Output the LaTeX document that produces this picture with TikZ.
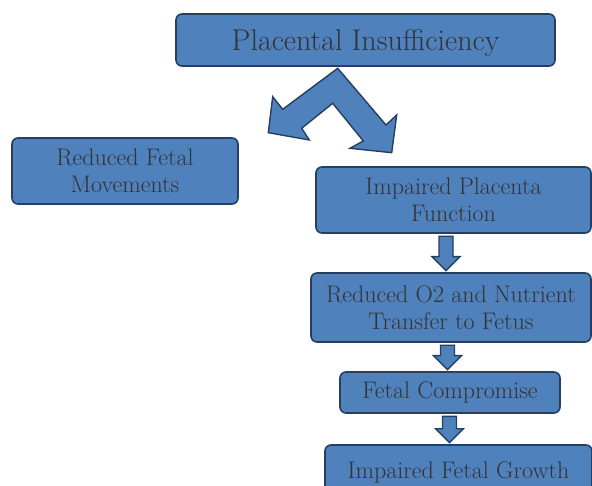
\documentclass[tikz,border=0pt]{standalone}
\usepackage{xcolor}
\usepackage{tikz}
\usetikzlibrary{calc, positioning}

\definecolor{boxblue}{HTML}{4F81BD}
\definecolor{boxline}{HTML}{243F60}
\definecolor{boxtext}{HTML}{333333}

% block arrow pointing down from node #1 to node #2, shifted by #3
\newcommand{\downblock}[3]{%
    \coordinate (dbtop) at ($(#1.south)+(#3,2.5)$);
    \coordinate (dbbase) at (dbtop |- #2.north);
    \coordinate (dbtip) at ($(dbbase)+(0,-1.5)$);
    \draw[block arrow] ($(dbtop)+(-7,0)$) -- ($(dbtip)+(-7,-14)$) -- ($(dbtip)+(-14,-14)$)
        -- (dbtip) -- ($(dbtip)+(14,-14)$) -- ($(dbtip)+(7,-14)$) -- ($(dbtop)+(7,0)$) -- cycle;
}

\begin{document}
\begin{tikzpicture}[
    x=1pt, y=-1pt,
    flow box/.style = {
        rectangle,
        rounded corners=6pt,
        draw=boxline,
        line width=1.6pt,
        fill=boxblue,
        text=boxtext,
        align=center,
        inner sep=0pt,
        font=\fontsize{24}{27}\selectfont
    },
    block arrow/.style = {
        draw=boxline,
        line width=1.4pt,
        fill=boxblue,
        line join=miter
    }
]
\useasboundingbox (0,0) rectangle (592,486);
\clip (0,0) rectangle (592,486);

\node [flow box, minimum width=379pt, minimum height=52pt, text depth=0pt, font=\fontsize{30}{34}\selectfont]
    (insuff) at (365.5,40) {Placental Insufficiency};
\node [flow box, minimum width=226pt, minimum height=66pt] (movements) at (125,171) {Reduced Fetal\\Movements};
\node [flow box, minimum width=275pt, minimum height=66pt] (function) at (453.5,200) {Impaired Placenta\\Function};
\node [flow box, minimum width=280pt, minimum height=69pt] (transfer) at (451,307.5) {Reduced O2 and Nutrient\\Transfer to Fetus};
\node [flow box, minimum width=220pt, minimum height=41pt] (compromise) at (450,392.5) {Fetal Compromise};
\node [flow box, minimum width=267pt, minimum height=55pt] (growth) at (458.5,472.5) {Impaired Fetal Growth};

% split arrow below the top box
\draw[block arrow] (337.7,68.3) -- (386,125) -- (396.7,115) -- (391.7,152.7) -- (350,148.3)
    -- (363.3,141) -- (332.7,103.3) -- (301.7,128.3) -- (309.3,140) -- (268.3,132.7)
    -- (272.7,96.7) -- (282.7,109.3) -- cycle;

\downblock{function}{transfer}{-7.5}
\downblock{transfer}{compromise}{-3.5}
\downblock{compromise}{growth}{-0.5}

\end{tikzpicture}
\end{document}
